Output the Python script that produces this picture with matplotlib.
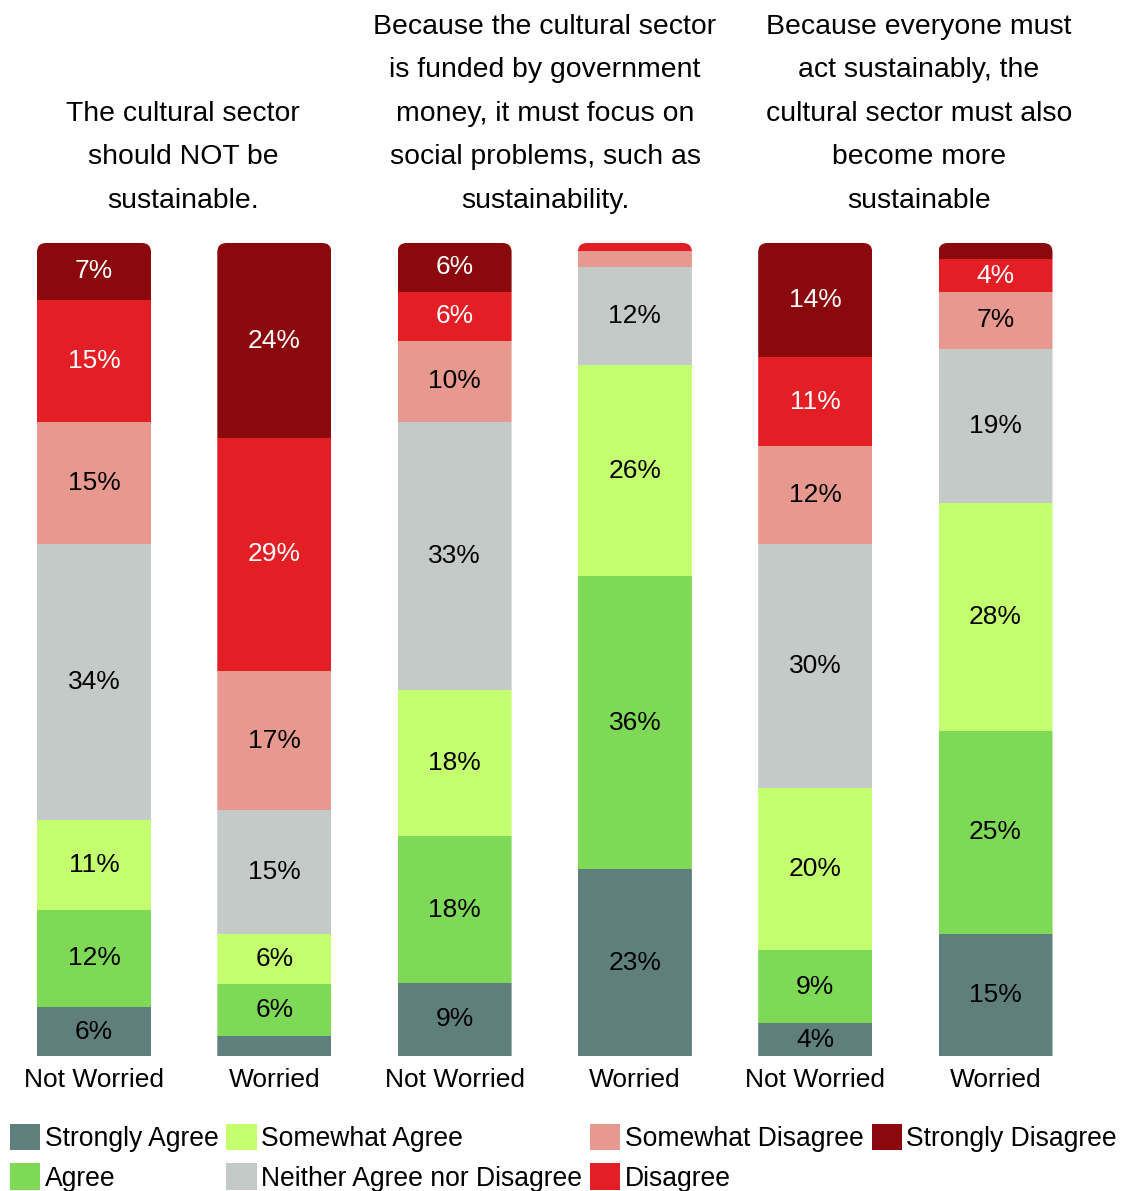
import matplotlib
matplotlib.use("Agg")

import matplotlib.pyplot as plt
from matplotlib.patches import FancyBboxPatch, BoxStyle

plt.rcParams["font.family"] = ["Liberation Sans", "DejaVu Sans"]

# survey answers per group, in percent
groups = ["Not Worried", "Worried", "Not Worried", "Worried", "Not Worried", "Worried"]
answers = ["Strongly Agree", "Agree", "Somewhat Agree", "Neither Agree nor Disagree",
           "Somewhat Disagree", "Disagree", "Strongly Disagree"]

strongly_agree = [6, 2.4, 9, 23, 4, 15]
agree = [12, 6.4, 18, 36, 9, 25]
somewhat_agree = [11, 6.2, 18, 26, 20, 28]
neither = [34, 15.2, 33, 12, 30, 19]
somewhat_disagree = [15, 17.2, 10, 2, 12, 7]
disagree = [15, 28.6, 6, 1, 11, 4]
strongly_disagree = [7, 24, 6, 0, 14, 2]

questions = [
    "The cultural sector\nshould NOT be\nsustainable.",
    "Because the cultural sector\nis funded by government\nmoney, it must focus on\nsocial problems, such as\nsustainability.",
    "Because everyone must\nact sustainably, the\ncultural sector must also\nbecome more\nsustainable",
]

series = [strongly_agree, agree, somewhat_agree, neither,
          somewhat_disagree, disagree, strongly_disagree]
colors = ["#5e7f7b", "#7ed957", "#c3ff6e", "#c3cac8", "#e8998f", "#e31e24", "#8b090d"]
text_colors = ["black", "black", "black", "black", "black", "white", "white"]

W, H = 1142, 1191
fig = plt.figure(figsize=(W / 100, H / 100), dpi=100)
ax = fig.add_axes([3.85 / W, 1 - 1056 / H, 1081.8 / W, 813 / H])

x = list(range(len(groups)))
bar_w = 114 / 180.3
ax.set_xlim(-0.5, 5.5)
ax.set_ylim(0, 100)

# rounded top corners: clip each stacked bar with a rounded box
p0 = ax.transData.transform((0, 0))
p1 = ax.transData.transform((1, 1))
sx, sy = p1[0] - p0[0], p1[1] - p0[1]
radius = 9
clips = []
for xi in x:
    clip = FancyBboxPatch((xi - bar_w / 2, -5), bar_w, 105,
                          boxstyle=BoxStyle("Round", pad=0, rounding_size=radius / sx),
                          mutation_aspect=sx / sy, transform=ax.transData)
    clips.append(clip)

bottoms = [0] * len(groups)
for name, vals, col, tcol in zip(answers, series, colors, text_colors):
    bars = ax.bar(x, vals, bottom=bottoms, width=bar_w, color=col, label=name, linewidth=0)
    for j, patch in enumerate(bars):
        patch.set_clip_path(clips[j])
        if vals[j] >= 3:
            ax.text(x[j], bottoms[j] + vals[j] / 2, f"{vals[j]:.0f}%", ha="center",
                    va="center", fontsize=19, color=tcol)
    bottoms = [b + v for b, v in zip(bottoms, vals)]

ax.set_xticks(x)
ax.set_xticklabels(groups, fontsize=19)
ax.tick_params(axis="x", length=0, pad=8.6)
ax.set_yticks([])
for s in ax.spines.values():
    s.set_visible(False)

# question titles above each pair of bars
for q, px in zip(questions, [183, 545, 919]):
    fig.text(px / W, 1 - 214 / H, q, ha="center", va="bottom", fontsize=20.4,
             linespacing=1.88)

fig.legend(loc="upper left", bbox_to_anchor=(10 / W, 1 - 1124 / H), ncol=4,
           frameon=False, fontsize=19.1, handlelength=1.14, handleheight=1.14,
           handletextpad=0.17, columnspacing=0.3, labelspacing=0.43,
           borderpad=0, borderaxespad=0)

fig.savefig("out.png", dpi=100)
